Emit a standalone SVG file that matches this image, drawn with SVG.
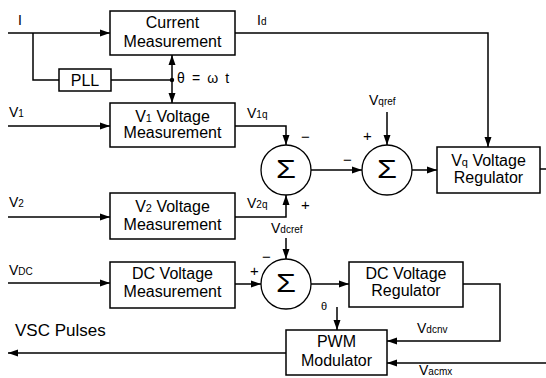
<svg xmlns="http://www.w3.org/2000/svg" width="546" height="378" viewBox="0 0 546 378">
<defs>
<marker id="ah" markerUnits="userSpaceOnUse" markerWidth="11" markerHeight="8" refX="10" refY="4" orient="auto">
<path d="M0,0.5 L10,4 L0,7.5 z" fill="#000"/>
</marker>
<style>
.box{fill:#fff;stroke:#000;stroke-width:1.5}
.sum{fill:#fff;stroke:#000;stroke-width:1.3}
.ln{fill:none;stroke:#000;stroke-width:1.5}
.arr{fill:none;stroke:#000;stroke-width:1.5;marker-end:url(#ah)}
text{font-family:"Liberation Sans",Arial,sans-serif;fill:#000}
.bt{font-size:16px;text-anchor:middle}
.lb{font-size:14px}
.sb{font-size:10px}
.sg{font-size:15px}
.sig{font-family:"Liberation Sans",Arial,sans-serif;font-size:25px;text-anchor:middle}
</style>
</defs>
<rect width="546" height="378" fill="#fff"/>
<g id="connectors">
<path class="arr" d="M8,33 H110"/>
<path class="ln" d="M33,33 V80 H59"/>
<path class="ln" d="M111,80 H172"/>
<circle cx="172" cy="80" r="2.2" fill="#000"/>
<path class="arr" d="M172,80 V55"/>
<path class="arr" d="M172,80 V103"/>
<path class="arr" d="M235,33 H488 V147"/>
<path class="arr" d="M8,126 H110"/>
<path class="arr" d="M235,126 H286 V145"/>
<path class="arr" d="M8,217 H110"/>
<path class="arr" d="M235,217 H286 V195"/>
<path class="arr" d="M8,283 H110"/>
<path class="arr" d="M235,284 H261"/>
<path class="arr" d="M286,238 V259"/>
<path class="arr" d="M311,170 H362"/>
<path class="arr" d="M387,112 V145"/>
<path class="arr" d="M412,170 H437"/>
<path class="ln" d="M540,169 H546"/>
<path class="arr" d="M311,284 H349"/>
<path class="arr" d="M463,284 H500 V341 H387"/>
<path class="arr" d="M546,363 H387"/>
<path class="arr" d="M337,307 V330"/>
<path class="arr" d="M286,353 H8"/>
</g>
<g id="current">
<rect class="box" x="110" y="11" width="125" height="44"/>
<text class="bt" x="172.5" y="28">Current</text>
<text class="bt" x="172.5" y="47">Measurement</text>
</g>
<g id="pll">
<rect class="box" x="59" y="69" width="52" height="22"/>
<text class="bt" x="85" y="86">PLL</text>
</g>
<g id="v1meas">
<rect class="box" x="110" y="103" width="125" height="44"/>
<text class="bt" x="172.5" y="122">V<tspan font-size="11">1</tspan> Voltage</text>
<text class="bt" x="172.5" y="138">Measurement</text>
</g>
<g id="v2meas">
<rect class="box" x="110" y="193" width="125" height="46"/>
<text class="bt" x="172.5" y="212">V<tspan font-size="11">2</tspan> Voltage</text>
<text class="bt" x="172.5" y="230">Measurement</text>
</g>
<g id="dcmeas">
<rect class="box" x="110" y="262" width="125" height="46"/>
<text class="bt" x="172.5" y="279">DC Voltage</text>
<text class="bt" x="172.5" y="297">Measurement</text>
</g>
<g id="sum1">
<circle class="sum" cx="286" cy="170" r="25"/>
<text class="sig" x="286" y="178" textLength="20" lengthAdjust="spacingAndGlyphs">Σ</text>
</g>
<g id="sum2">
<circle class="sum" cx="387" cy="170" r="25"/>
<text class="sig" x="387" y="178" textLength="20" lengthAdjust="spacingAndGlyphs">Σ</text>
</g>
<g id="sum3">
<circle class="sum" cx="286" cy="284" r="25"/>
<text class="sig" x="286" y="292" textLength="20" lengthAdjust="spacingAndGlyphs">Σ</text>
</g>
<g id="vqreg">
<rect class="box" x="437" y="147" width="103" height="46"/>
<text class="bt" x="488.5" y="166">V<tspan font-size="11">q</tspan> Voltage</text>
<text class="bt" x="488.5" y="183">Regulator</text>
</g>
<g id="dcreg">
<rect class="box" x="349" y="262" width="114" height="45"/>
<text class="bt" x="406" y="279">DC Voltage</text>
<text class="bt" x="406" y="296">Regulator</text>
</g>
<g id="pwm">
<rect class="box" x="286" y="330" width="101" height="45"/>
<text class="bt" x="336.5" y="347">PWM</text>
<text class="bt" x="336.5" y="366">Modulator</text>
</g>
<g id="labels">
<text class="lb" x="18" y="25">I</text>
<text class="lb" x="257" y="25">I<tspan class="sb">d</tspan></text>
<text class="lb" x="177" y="83" letter-spacing="1.6">θ = ω t</text>
<text class="lb" x="9" y="117">V<tspan class="sb">1</tspan></text>
<text class="lb" x="247" y="118">V<tspan class="sb">1q</tspan></text>
<text class="lb" x="9" y="207">V<tspan class="sb">2</tspan></text>
<text class="lb" x="247" y="208">V<tspan class="sb">2q</tspan></text>
<text class="lb" x="9" y="275">V<tspan class="sb">DC</tspan></text>
<text class="lb" x="369" y="105">V<tspan class="sb">qref</tspan></text>
<text class="lb" x="271" y="233">V<tspan class="sb">dcref</tspan></text>
<text class="lb" x="417" y="333">V<tspan class="sb">dcnv</tspan></text>
<text class="lb" x="419" y="375">V<tspan class="sb">acmx</tspan></text>
<text style="font-size:11px" x="321" y="310">θ</text>
<text style="font-size:17px" x="15" y="336">VSC Pulses</text>
<text class="sg" x="301" y="142">−</text>
<text class="sg" x="301" y="210">+</text>
<text class="sg" x="343" y="165">−</text>
<text class="sg" x="363" y="141">+</text>
<text class="sg" x="262" y="262">−</text>
<text class="sg" x="250" y="276">+</text>
</g>
</svg>
